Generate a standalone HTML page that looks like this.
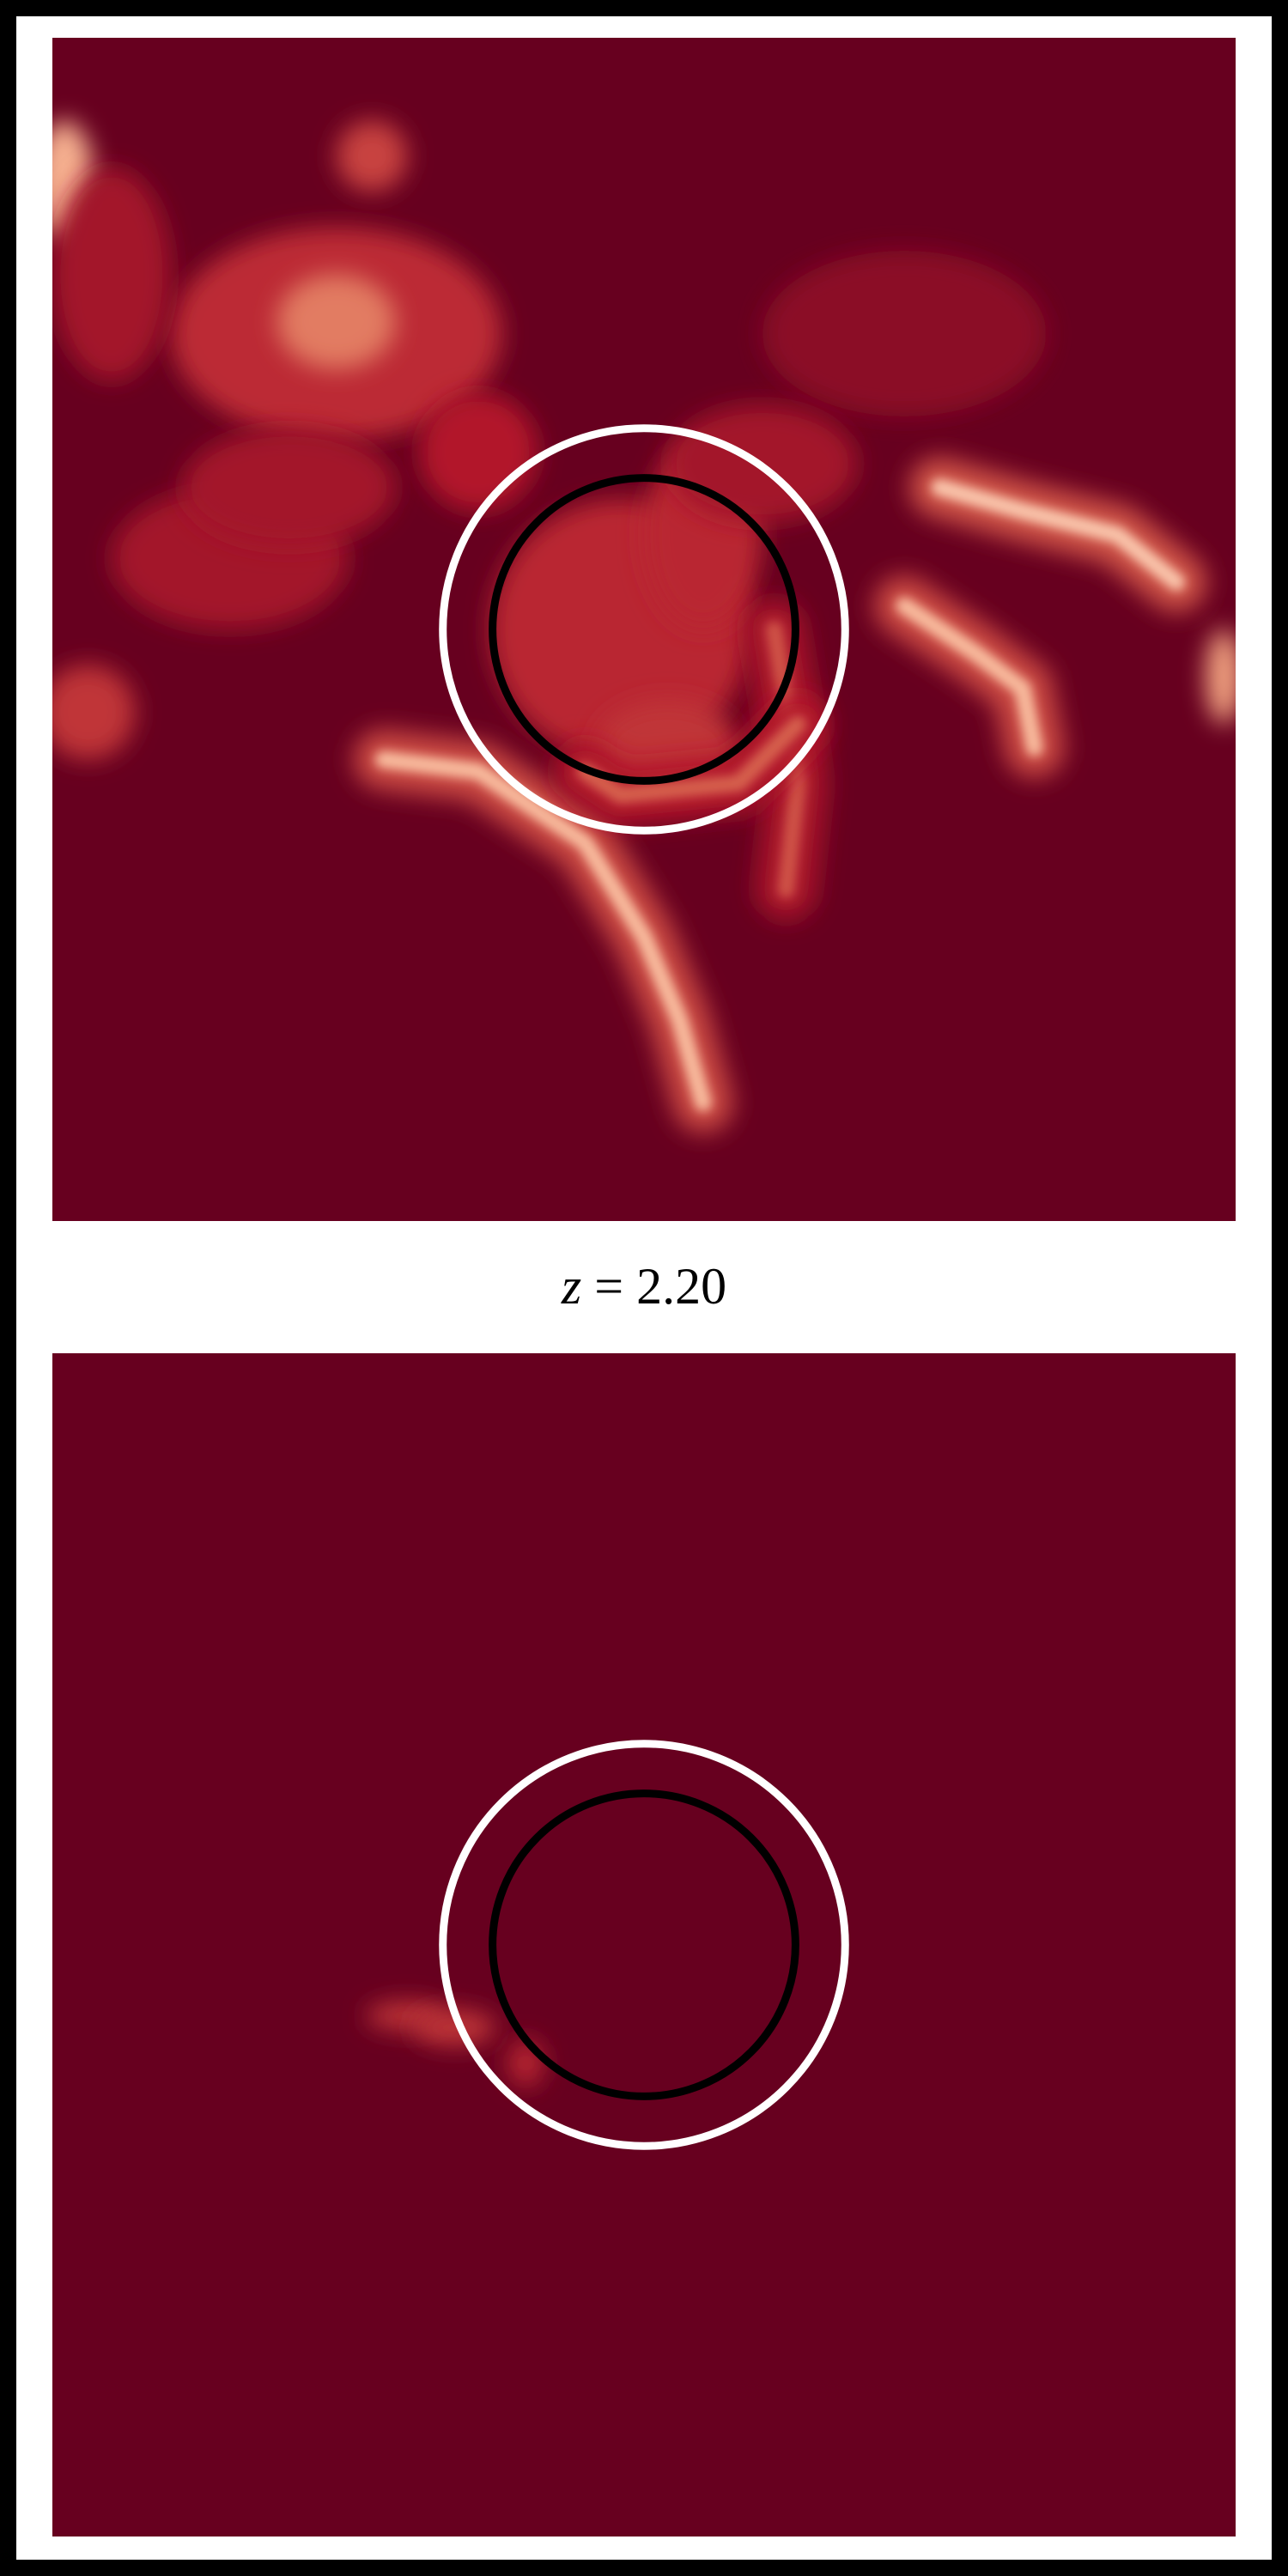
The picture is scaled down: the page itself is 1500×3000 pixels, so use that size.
<!DOCTYPE html>
<html><head><meta charset="utf-8"><style>
html,body{margin:0;padding:0;background:#000;}
svg{display:block;}
</style></head><body>
<svg id="chart" width="1500" height="3000" viewBox="0 0 1500 3000" xmlns="http://www.w3.org/2000/svg">
<defs>
<filter id="blur1" filterUnits="userSpaceOnUse" x="0" y="0" width="1500" height="3000"><feGaussianBlur stdDeviation="14"/></filter>
<filter id="blur2" filterUnits="userSpaceOnUse" x="0" y="0" width="1500" height="3000"><feGaussianBlur stdDeviation="6"/></filter>
<clipPath id="clipTop"><rect x="61" y="44" width="1378" height="1378"/></clipPath>
<clipPath id="clipBot"><rect x="61" y="1576" width="1378" height="1378"/></clipPath>
</defs>
<rect x="0" y="0" width="1500" height="3000" fill="#000"/>
<rect x="19" y="19" width="1462" height="2962" fill="#fff"/>
<rect x="61" y="44" width="1378" height="1378" fill="#67001f"/>
<rect x="61" y="1576" width="1378" height="1378" fill="#67001f"/>
<g id="topBlobs" clip-path="url(#clipTop)"></g>
<g id="botBlobs" clip-path="url(#clipBot)"></g>
<g id="circles"></g>
<text x="750" y="1518" text-anchor="middle" font-family="Liberation Serif, serif" font-size="60" fill="#000"><tspan font-style="italic">z</tspan> = 2.20</text>
</svg>
<script>
// blob data in panel-fraction units: u (x), v (y), rx, ry, intensity (0..1)
const topU  = [0.01,0.24,0.24,0.27,0.48,0.15,0.03,0.36,0.05,0.20,0.55,0.99,0.72,0.60,0.52];
const topV  = [0.12,0.25,0.24,0.10,0.50,0.44,0.57,0.35,0.20,0.38,0.42,0.54,0.25,0.36,0.60];
const topRx = [0.025,0.14,0.05,0.03,0.11,0.10,0.04,0.05,0.05,0.09,0.05,0.015,0.12,0.08,0.06];
const topRy = [0.05,0.09,0.04,0.03,0.11,0.06,0.04,0.05,0.09,0.05,0.08,0.04,0.07,0.05,0.04];
const topI  = [0.8,0.32,0.6,0.4,0.3,0.2,0.35,0.25,0.2,0.2,0.3,0.75,0.12,0.2,0.35];
// filaments: polylines in panel-fraction units
const filU = [[0.28,0.36,0.45,0.50,0.53,0.55],[0.75,0.82,0.90,0.95],[0.72,0.78,0.82,0.83],[0.61,0.62,0.63,0.62],[0.45,0.48,0.58,0.63]];
const filV = [[0.61,0.62,0.68,0.76,0.83,0.90],[0.38,0.40,0.42,0.46],[0.48,0.52,0.55,0.60],[0.50,0.56,0.63,0.72],[0.62,0.64,0.63,0.58]];
const filI = [0.85,0.9,0.85,0.45,0.5];
const botU  = [0.30,0.34,0.40];
const botV  = [0.56,0.57,0.60];
const botRx = [0.035,0.035,0.015];
const botRy = [0.012,0.015,0.02];
const botI  = [0.35,0.35,0.3];
const circleCx = [0.5,0.5];
const circleCy = [0.5,0.5];
const circleR  = [0.17,0.128];
const circleColor = ['#fff','#000'];

const NS='http://www.w3.org/2000/svg';
const P=1378, X0=61, TOP=44, BOT=1576;
function sx(u){return X0+u*P;}
function sy(v,off){return off+v*P;}
function col(i){
  const stops=[[103,0,31],[178,24,43],[214,96,77],[244,165,130],[253,219,199]];
  const t=Math.max(0,Math.min(1,i))*(stops.length-1);
  const k=Math.min(stops.length-2,Math.floor(t)), f=t-k;
  const c=stops[k].map((a,j)=>Math.round(a+(stops[k+1][j]-a)*f));
  return 'rgb('+c.join(',')+')';
}
function blobs(g,U,V,RX,RY,I,off){
  for(let i=0;i<U.length;i++){
    const e=document.createElementNS(NS,'ellipse');
    
    
    e.setAttribute('cx',sx(U[i]));e.setAttribute('cy',sy(V[i],off));
    e.setAttribute('rx',RX[i]*P);e.setAttribute('ry',RY[i]*P);
    e.setAttribute('fill',col(I[i]));e.setAttribute('filter','url(#blur1)');
    g.appendChild(e);
  }
}
const gt=document.getElementById('topBlobs');
blobs(gt,topU,topV,topRx,topRy,topI,TOP);
for(let f=0;f<filU.length;f++){
  const pts=filU[f].map((u,j)=>sx(u)+','+sy(filV[f][j],TOP)).join(' ');
  const w=document.createElementNS(NS,'polyline');
  
  
  w.setAttribute('points',pts);w.setAttribute('fill','none');
  w.setAttribute('stroke',col(filI[f]*0.5));w.setAttribute('stroke-width',70);
  w.setAttribute('stroke-linecap','round');w.setAttribute('filter','url(#blur1)');
  gt.appendChild(w);
  const l=document.createElementNS(NS,'polyline');
  
  
  l.setAttribute('points',pts);l.setAttribute('fill','none');
  l.setAttribute('stroke',col(filI[f]));l.setAttribute('stroke-width',20);
  l.setAttribute('stroke-linecap','round');l.setAttribute('filter','url(#blur2)');
  gt.appendChild(l);
}
blobs(document.getElementById('botBlobs'),botU,botV,botRx,botRy,botI,BOT);
const gc=document.getElementById('circles');
[TOP,BOT].forEach(off=>{
  for(let i=0;i<circleR.length;i++){
    const c=document.createElementNS(NS,'circle');
    
    
    c.setAttribute('cx',sx(circleCx[i]));c.setAttribute('cy',sy(circleCy[i],off));
    c.setAttribute('r',circleR[i]*P);c.setAttribute('fill','none');
    c.setAttribute('stroke',circleColor[i]);c.setAttribute('stroke-width',9);
    gc.appendChild(c);
  }
});
</script>
</body></html>
